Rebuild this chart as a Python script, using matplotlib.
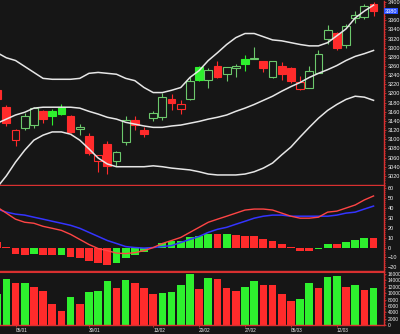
import numpy as np
import matplotlib.pyplot as plt
from matplotlib.ticker import MultipleLocator

plt.rcParams['font.family'] = ['Liberation Sans', 'DejaVu Sans']

# --- data ---
opens  = [3207, 3170, 3098, 3124, 3131, 3161, 3161, 3170, 3150, 3122,
          3107, 3053, 3090, 3053, 3094, 3142, 3120, 3146, 3148, 3187,
          3165, 3189, 3257, 3229, 3259, 3242, 3256, 3276, 3276, 3272,
          3235, 3259, 3255, 3209, 3213, 3244, 3320, 3333, 3305, 3364,
          3366, 3396]
highs  = [3212, 3174, 3122, 3157, 3170, 3163, 3165, 3176, 3152, 3133,
          3113, 3066, 3096, 3074, 3150, 3150, 3126, 3161, 3200, 3198,
          3185, 3237, 3259, 3255, 3272, 3257, 3265, 3285, 3302, 3272,
          3272, 3268, 3257, 3239, 3261, 3294, 3350, 3335, 3352, 3380,
          3396, 3400]
lows   = [3185, 3128, 3085, 3120, 3124, 3135, 3131, 3152, 3114, 3109,
          3066, 3029, 3024, 3042, 3087, 3120, 3104, 3139, 3141, 3163,
          3155, 3185, 3228, 3213, 3233, 3228, 3235, 3250, 3276, 3246,
          3233, 3229, 3222, 3207, 3211, 3244, 3309, 3294, 3300, 3354,
          3363, 3370]
closes = [3189, 3135, 3120, 3150, 3168, 3144, 3150, 3155, 3116, 3126,
          3070, 3066, 3042, 3072, 3142, 3131, 3111, 3157, 3192, 3180,
          3176, 3228, 3230, 3252, 3235, 3257, 3261, 3265, 3278, 3255,
          3270, 3242, 3228, 3225, 3250, 3287, 3339, 3300, 3348, 3372,
          3390, 3380]

boll_up  = [3289, 3278, 3272, 3259, 3246, 3233, 3231, 3231, 3231, 3233,
            3244, 3246, 3244, 3242, 3233, 3228, 3213, 3202, 3202, 3207,
            3213, 3235, 3250, 3272, 3289, 3307, 3322, 3331, 3331, 3324,
            3317, 3315, 3311, 3307, 3304, 3304, 3311, 3326, 3341, 3365,
            3380, 3393]
boll_mid = [3135, 3144, 3153, 3159, 3168, 3170, 3170, 3170, 3170, 3168,
            3161, 3155, 3148, 3144, 3137, 3133, 3129, 3126, 3126, 3129,
            3131, 3135, 3139, 3144, 3148, 3153, 3161, 3168, 3176, 3185,
            3194, 3205, 3215, 3224, 3235, 3244, 3252, 3261, 3272, 3281,
            3287, 3294]
boll_low = [2995, 3020, 3050, 3076, 3098, 3109, 3116, 3116, 3111, 3098,
            3079, 3059, 3046, 3040, 3040, 3040, 3040, 3042, 3040, 3037,
            3035, 3033, 3029, 3024, 3022, 3022, 3022, 3024, 3029, 3037,
            3048, 3066, 3083, 3105, 3126, 3146, 3163, 3176, 3187, 3194,
            3192, 3185]

dif = [40.8, 34.7, 28.6, 25.5, 24.5, 21.4, 19.4, 17.3, 13.3, 8.2,
       3.1, -1.0, -3.1, -5.6, -6.1, -5.1, -3.1, 0.0, 4.1, 7.1,
       10.2, 15.3, 20.4, 25.5, 28.6, 31.6, 34.7, 37.8, 38.8, 38.8,
       37.8, 34.7, 31.6, 29.6, 29.6, 30.6, 35.7, 36.7, 39.8, 42.9,
       48.0, 52.0]
dea = [38.8, 35.7, 33.7, 32.7, 30.6, 28.6, 26.5, 24.5, 22.4, 19.4,
       15.3, 11.2, 7.1, 4.1, 1.0, 0.0, -0.5, 0.0, 1.0, 2.0,
       5.1, 8.2, 11.2, 15.3, 18.4, 20.4, 23.5, 26.5, 29.6, 31.6,
       32.7, 32.7, 31.6, 31.6, 31.6, 31.6, 31.6, 32.7, 34.7, 35.7,
       38.8, 41.8]
macd_hist = [5.4, 0.3, -6, -7, -6, -8, -8, -7, -10, -11,
             -14, -15.6, -17.7, -16, -11, -7, -4.4, -0.8, 4.4, 6.5,
             7, 10.5, 12, 14, 13.3, 13.3, 12.2, 11.6, 11.2, 8.2,
             7.1, 3.7, 1.0, -3.4, -3.4, -1.2, 3.7, 3.7, 6.1, 7.8,
             9.9, 9.9]
hist_up = [0, 0, 0, 0, 1, 0, 0, 1, 0, 0,
           0, 0, 0, 1, 1, 1, 1, 1, 1, 1,
           1, 1, 1, 1, 0, 1, 0, 0, 0, 0,
           0, 0, 0, 0, 0, 1, 1, 0, 1, 1,
           1, 0]

volume = [9700, 14500, 13000, 13100, 12000, 10600, 6700, 4400, 8700, 6600,
          10400, 10600, 13800, 11500, 14200, 13100, 11500, 9800, 10000, 10300,
          12400, 15900, 11300, 14700, 14500, 11500, 10800, 11800, 13900, 12500,
          12500, 9700, 7700, 8200, 13000, 11500, 15100, 15300, 11900, 12600,
          10900, 11500]
vol_up = [1, 1, 0, 1, 0, 0, 0, 0, 1, 0,
          1, 1, 1, 0, 1, 0, 0, 0, 1, 1,
          1, 1, 0, 1, 0, 0, 0, 1, 1, 0,
          0, 0, 0, 1, 1, 0, 1, 1, 0, 1,
          0, 1]

price_ticks = list(range(3020, 3401, 20))
date_pos = [2, 10, 17, 22, 27, 32, 37]
date_labels = ['05/01', '30/01', '13/02', '20/02', '27/02', '05/03', '12/03']

# --- style ---
BG = '#161616'
GREEN = '#2ef02e'
GREEN_LINE = '#6cc86c'
RED = '#ff2b2b'
AXIS_RED = '#d83030'
TXT = '#f0f0f0'
FS = 4.0

fig = plt.figure(figsize=(4.0, 3.34), dpi=100)
fig.patch.set_facecolor(BG)
ax1 = fig.add_axes([0.0, 0.446, 0.96, 0.551])
ax2 = fig.add_axes([0.0, 0.189, 0.96, 0.254], sharex=ax1)
ax3 = fig.add_axes([0.0, 0.026, 0.96, 0.160], sharex=ax1)

x = np.arange(len(closes))

def style(ax):
    ax.set_facecolor(BG)
    for s in ['top', 'left']:
        ax.spines[s].set_visible(False)
    for s in ['bottom', 'right']:
        ax.spines[s].set_color(AXIS_RED)
        ax.spines[s].set_linewidth(1.0)
    ax.yaxis.tick_right()
    ax.tick_params(axis='y', which='both', colors=AXIS_RED, labelcolor=TXT,
                   labelsize=FS, length=1.5, width=0.6, pad=1)
    ax.tick_params(axis='y', which='minor', length=1.0)
    ax.tick_params(axis='x', which='both', bottom=False, labelbottom=False)

for a in (ax1, ax2, ax3):
    style(a)

# --- candles ---
for i in x:
    o, h, l, c = opens[i], highs[i], lows[i], closes[i]
    prev = closes[i - 1] if i > 0 else o
    up = c >= prev
    hollow = c > o
    if hollow:
        edge = GREEN_LINE if up else RED
        face = BG
    else:
        edge = GREEN if up else RED
        face = edge
    ax1.vlines(i, l, h, color=edge, linewidth=0.8, zorder=2)
    ax1.bar(i, max(abs(c - o), 1.5), bottom=min(o, c), width=0.85,
            facecolor=face, edgecolor=edge, linewidth=0.8, zorder=3)

ax1.plot(x, boll_up, color='#e6e6e6', lw=1.1, zorder=4)
ax1.plot(x, boll_mid, color='#e6e6e6', lw=1.1, zorder=4)
ax1.plot(x, boll_low, color='#e6e6e6', lw=1.1, zorder=4)

ax1.set_xlim(0.31, 42.14)
ax1.set_ylim(3000, 3402)
ax1.set_yticks(price_ticks)
# the last-price box takes the place of the label it covers
ax1.set_yticklabels(['' if abs(p - closes[-1]) < 10 else str(p) for p in price_ticks])
ax1.yaxis.set_minor_locator(MultipleLocator(5))

ax1.text(1.003, closes[-1], f'{closes[-1]}', transform=ax1.get_yaxis_transform(),
         fontsize=FS, color='white', va='center', ha='left', zorder=10,
         bbox=dict(boxstyle='square,pad=0.15', fc='#2a50ff', ec='none'),
         clip_on=False)

# --- MACD ---
hcol = [GREEN if u else RED for u in hist_up]
ax2.bar(x, macd_hist, width=0.85, color=hcol, zorder=2)
ax2.plot(x, dea, color='#3434ff', lw=1.1, zorder=3)
ax2.plot(x, dif, color='#ff4545', lw=1.0, zorder=4)
ax2.set_ylim(-23.5, 62)
ax2.set_yticks(np.arange(-20, 61, 10))
ax2.yaxis.set_minor_locator(MultipleLocator(2))

# --- volume ---
vcol = [GREEN if u else RED for u in vol_up]
ax3.bar(x, volume, width=0.83, color=vcol, zorder=2)
ax3.set_ylim(0, 16600)
ax3.set_yticks(np.arange(0, 16001, 2000))
ax3.yaxis.set_minor_locator(MultipleLocator(500))
ax3.tick_params(axis='y', labelsize=FS - 0.5)
ax3.spines['top'].set_visible(True)
ax3.spines['top'].set_color(AXIS_RED)

ax3.set_xticks(date_pos)
ax3.set_xticklabels(date_labels)
ax3.tick_params(axis='x', which='major', bottom=True, labelbottom=True,
                colors=AXIS_RED, labelcolor=TXT, labelsize=3.4,
                length=1.5, width=0.6, pad=0.3)
for lbl in ax3.get_xticklabels():
    lbl.set_ha('left')

fig.savefig('out.png', dpi=100, facecolor=BG)
